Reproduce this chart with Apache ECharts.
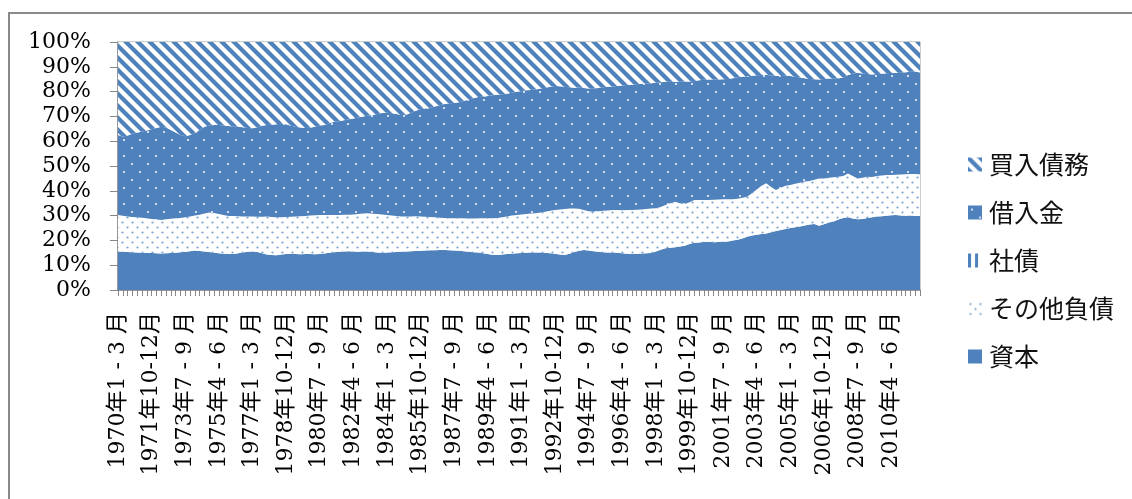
<!DOCTYPE html>
<html>
<head>
<meta charset="utf-8">
<script src="https://cdn.jsdelivr.net/npm/echarts@6/dist/echarts.min.js"></script>
<style>
  html, body { margin: 0; padding: 0; background: #fff; }
  #chart { width: 1132px; height: 499px; }
</style>
</head>
<body>
<div id="chart"></div>
<script>
// Quarterly balance-sheet composition (% of total), 1970 Q1 – 2011 Q4
const firstYear = 1970;
const lastYear = 2011;
const quarterLabels = ['1 - 3 月', '4 - 6 月', '7 - 9 月', '10-12月'];

const seriesNames = ['資本', 'その他負債', '社債', '借入金', '買入債務'];
const legendOrder = ['買入債務', '借入金', '社債', 'その他負債', '資本'];

// 資本 (one row per year, Q1..Q4)
const capital = [
  15.5, 15.4, 15.3, 15.2,  15.1, 15.0, 15.0, 14.9,  14.8, 14.7, 14.8, 14.9,  15.0, 15.2, 15.4, 15.6,
  15.9, 15.7, 15.5, 15.3,  15.0, 14.8, 14.6, 14.5,  14.5, 14.8, 15.1, 15.4,  15.5, 15.3, 14.8, 14.3,
  14.1, 14.0, 14.3, 14.5,  14.6, 14.5, 14.4, 14.5,  14.5, 14.4, 14.5, 14.7,  15.0, 15.2, 15.4, 15.5,
  15.6, 15.5, 15.4, 15.5,  15.5, 15.3, 15.1, 15.0,  15.1, 15.2, 15.3, 15.4,  15.5, 15.6, 15.7, 15.8,
  15.9, 16.0, 16.0, 16.1,  16.1, 16.0, 15.9, 15.8,  15.6, 15.4, 15.2, 15.1,  14.8, 14.5, 14.2, 14.1,
  14.3, 14.5, 14.6, 14.8,  14.9, 15.0, 15.1, 15.1,  15.1, 15.0, 14.8, 14.6,  14.3, 14.1, 14.6, 15.3,
  15.8, 16.1, 15.9, 15.6,  15.4, 15.2, 15.1, 15.1,  15.0, 14.8, 14.6, 14.5,  14.6, 14.7, 14.8, 14.9,
  15.5, 16.2, 16.8, 17.0,  17.2, 17.5, 17.8, 18.5,  19.1, 19.2, 19.4, 19.5,  19.3, 19.4, 19.5, 19.6,
  20.0, 20.3, 20.8, 21.5,  22.0, 22.3, 22.6, 22.8,  23.3, 23.8, 24.2, 24.6,  25.0, 25.3, 25.6, 26.0,
  26.4, 26.6, 25.9, 26.5,  27.2, 27.6, 28.4, 29.0,  29.3, 28.8, 28.5, 28.6,  29.0, 29.3, 29.6, 29.7,
  29.9, 30.1, 30.2, 30.0,  29.9, 30.0, 29.8, 29.8
];

// その他負債
const otherLiabilities = [
  14.7, 14.5, 14.3, 14.2,  14.2, 14.1, 13.9, 13.7,  13.6, 13.5, 13.7, 13.8,  13.9, 13.8, 13.9, 14.0,
  14.1, 14.6, 15.3, 15.9,  16.0, 15.8, 15.6, 15.3,  15.3, 14.9, 14.5, 14.2,  14.1, 14.2, 14.7, 15.3,
  15.3, 15.3, 15.0, 14.9,  14.9, 15.1, 15.3, 15.3,  15.5, 15.7, 15.7, 15.5,  15.2, 15.0, 14.8, 14.8,
  14.7, 14.9, 15.2, 15.3,  15.4, 15.4, 15.5, 15.4,  15.1, 14.8, 14.5, 14.2,  14.1, 14.0, 14.0, 13.8,
  13.6, 13.4, 13.3, 13.0,  12.9, 12.9, 13.0, 13.1,  13.3, 13.4, 13.6, 13.8,  14.1, 14.4, 14.7, 14.9,
  15.0, 15.1, 15.4, 15.4,  15.5, 15.6, 15.7, 15.8,  16.1, 16.6, 17.2, 17.7,  18.2, 18.6, 18.3, 17.6,
  17.0, 16.2, 15.9, 16.0,  16.4, 16.8, 17.0, 17.2,  17.3, 17.4, 17.7, 17.8,  17.8, 17.8, 17.9, 18.0,
  17.5, 17.3, 17.5, 18.0,  18.4, 17.5, 16.9, 16.9,  17.2, 17.1, 16.9, 16.8,  17.1, 17.1, 17.1, 17.0,
  16.6, 16.5, 16.4, 16.1,  17.0, 18.2, 19.4, 20.2,  18.2, 16.5, 17.0, 17.4,  17.3, 17.5, 17.6, 17.7,
  17.6, 17.9, 19.1, 18.5,  18.1, 17.9, 17.3, 17.0,  17.7, 17.2, 16.5, 16.7,  16.7, 16.3, 16.4, 16.5,
  16.5, 16.3, 16.3, 16.6,  16.8, 16.8, 17.0, 16.9
];

// 社債
const bonds = [
  0, 0, 0, 0,  0, 0, 0, 0,  0, 0, 0, 0,  0, 0, 0, 0,  0, 0, 0, 0,  0, 0, 0, 0,  0, 0, 0, 0,
  0, 0, 0, 0,  0, 0, 0, 0,  0, 0, 0, 0,  0, 0, 0, 0,  0, 0, 0, 0,  0, 0, 0, 0,  0, 0, 0, 0,
  0, 0, 0, 0,  0, 0, 0, 0,  0, 0, 0, 0,  0, 0, 0, 0,  0, 0, 0, 0,  0, 0, 0, 0,  0, 0, 0, 0,
  0, 0, 0, 0,  0, 0, 0, 0,  0, 0, 0, 0,  0, 0, 0, 0,  0, 0, 0, 0,  0, 0, 0, 0,  0, 0, 0, 0,
  0, 0, 0, 0,  0, 0, 0, 0,  0, 0, 0, 0,  0, 0, 0, 0,  0, 0, 0, 0,  0, 0, 0, 0,  0, 0, 0, 0,
  0, 0, 0, 0,  0, 0, 0, 0,  0, 0, 0, 0,  0, 0, 0, 0,  0, 0, 0, 0,  0, 0, 0, 0,  0, 0, 0, 0
];

// 借入金
const borrowings = [
  32.3, 31.9, 32.7, 33.6,  34.2, 34.7, 35.4, 36.2,  36.9, 37.6, 37.0, 35.8,  34.6, 33.5, 32.7, 32.9,
  33.3, 34.2, 35.0, 35.1,  35.5, 35.9, 36.1, 36.3,  36.1, 36.1, 36.0, 35.7,  35.6, 36.1, 36.7, 36.9,
  37.2, 37.5, 37.7, 37.4,  36.7, 36.2, 35.8, 35.5,  35.4, 35.7, 36.1, 36.3,  37.0, 37.6, 37.8, 38.1,
  38.5, 38.8, 39.0, 39.2,  39.4, 39.9, 40.4, 41.0,  41.3, 41.3, 41.2, 41.0,  41.1, 41.9, 42.6, 43.4,
  43.7, 44.1, 44.7, 45.4,  46.0, 46.4, 46.5, 46.8,  47.3, 48.0, 48.5, 48.9,  49.0, 49.3, 49.6, 49.7,
  49.6, 49.5, 49.5, 49.7,  49.8, 49.9, 49.8, 49.9,  50.0, 50.0, 50.0, 50.0,  49.7, 49.3, 48.9, 48.7,
  48.9, 49.2, 49.5, 49.7,  49.7, 49.8, 49.9, 49.8,  50.0, 50.3, 50.4, 50.5,  50.6, 50.7, 50.6, 50.5,
  50.6, 50.3, 49.7, 49.0,  48.4, 49.0, 49.4, 48.7,  48.0, 48.3, 48.5, 48.6,  48.5, 48.4, 48.4, 48.5,
  48.8, 49.0, 48.8, 48.6,  47.4, 46.1, 44.7, 43.8,  45.0, 46.1, 45.1, 44.4,  44.0, 43.2, 42.5, 41.7,
  41.1, 40.5, 39.9, 40.1,  40.0, 39.7, 39.7, 39.6,  39.7, 41.2, 42.6, 42.0,  41.4, 41.3, 41.1, 41.0,
  41.0, 41.1, 41.0, 41.0,  41.1, 41.2, 41.3, 41.0
];

// 買入債務
const payables = [
  37.5, 38.2, 37.7, 37.0,  36.5, 36.2, 35.7, 35.2,  34.7, 34.2, 34.5, 35.5,  36.5, 37.5, 38.0, 37.5,
  36.7, 35.5, 34.2, 33.7,  33.5, 33.5, 33.7, 33.9,  34.1, 34.2, 34.4, 34.7,  34.8, 34.4, 33.8, 33.5,
  33.4, 33.2, 33.0, 33.2,  33.8, 34.2, 34.5, 34.7,  34.6, 34.2, 33.7, 33.5,  32.8, 32.2, 32.0, 31.6,
  31.2, 30.8, 30.4, 30.0,  29.7, 29.4, 29.0, 28.6,  28.5, 28.7, 29.0, 29.4,  29.3, 28.5, 27.7, 27.0,
  26.8, 26.5, 26.0, 25.5,  25.0, 24.7, 24.6, 24.3,  23.8, 23.2, 22.7, 22.2,  22.1, 21.8, 21.5, 21.3,
  21.1, 20.9, 20.5, 20.1,  19.8, 19.5, 19.4, 19.2,  18.8, 18.4, 18.0, 17.7,  17.8, 18.0, 18.2, 18.4,
  18.3, 18.5, 18.7, 18.7,  18.5, 18.2, 18.0, 17.9,  17.7, 17.5, 17.3, 17.2,  17.0, 16.8, 16.7, 16.6,
  16.4, 16.2, 16.0, 16.0,  16.0, 16.0, 15.9, 15.9,  15.7, 15.4, 15.2, 15.1,  15.1, 15.1, 15.0, 14.9,
  14.6, 14.2, 14.0, 13.8,  13.6, 13.4, 13.3, 13.2,  13.5, 13.6, 13.7, 13.6,  13.7, 14.0, 14.3, 14.6,
  14.9, 15.0, 15.1, 14.9,  14.7, 14.8, 14.6, 14.4,  13.3, 12.8, 12.4, 12.7,  12.9, 13.1, 12.9, 12.8,
  12.6, 12.5, 12.5, 12.4,  12.2, 12.0, 11.9, 12.3
];

const categories = [];
for (let y = firstYear; y <= lastYear; y++) {
  for (const q of quarterLabels) categories.push(y + '年' + q);
}

// ---- fill patterns ----
const BLUE = '#4F81BD';
function makeTile(w, h, draw) {
  const c = document.createElement('canvas');
  c.width = w; c.height = h;
  draw(c.getContext('2d'), w, h);
  return c;
}
function dot(ctx, x, y, r) { ctx.beginPath(); ctx.arc(x, y, r, 0, Math.PI * 2); ctx.fill(); }

const stripeTile = makeTile(12, 12, (ctx, w, h) => {
  ctx.fillStyle = '#fff'; ctx.fillRect(0, 0, w, h);
  ctx.strokeStyle = BLUE; ctx.lineWidth = 4.2;
  for (let k = -2; k <= 2; k++) {
    ctx.beginPath();
    ctx.moveTo(k * w - w, -h);
    ctx.lineTo(k * w + 2 * w, 2 * h);
    ctx.stroke();
  }
});
const bigDotTile = makeTile(16, 16, (ctx, w, h) => {
  ctx.fillStyle = BLUE; ctx.fillRect(0, 0, w, h);
  ctx.fillStyle = 'rgba(255,255,255,0.9)';
  dot(ctx, 4, 4, 1.1); dot(ctx, 12, 12, 1.1);
});
const smallDotTile = makeTile(10, 10, (ctx, w, h) => {
  ctx.fillStyle = '#fff'; ctx.fillRect(0, 0, w, h);
  ctx.fillStyle = 'rgba(79,129,189,0.75)';
  dot(ctx, 2.5, 2.5, 1.1); dot(ctx, 7.5, 7.5, 1.1);
});
const verticalTile = makeTile(7, 7, (ctx, w, h) => {
  ctx.fillStyle = '#fff'; ctx.fillRect(0, 0, w, h);
  ctx.fillStyle = BLUE; ctx.fillRect(0, 0, 3, h);
});
const pat = (img) => ({ image: img, repeat: 'repeat' });

const fills = {
  '資本': BLUE,
  'その他負債': pat(smallDotTile),
  '社債': pat(verticalTile),
  '借入金': pat(bigDotTile),
  '買入債務': pat(stripeTile)
};
const values = {
  '資本': capital,
  'その他負債': otherLiabilities,
  '社債': bonds,
  '借入金': borrowings,
  '買入債務': payables
};

const serifFont = '"DejaVu Serif", "Noto Sans CJK JP", serif';

const chart = echarts.init(document.getElementById('chart'), null, { renderer: 'canvas' });
chart.setOption({
  animation: false,
  backgroundColor: '#fff',
  graphic: [{
    type: 'rect',
    shape: { x: 9, y: 13, width: 1300, height: 700 },
    style: { fill: 'none', stroke: '#8a8a8a', lineWidth: 2 },
    silent: true
  }],
  grid: {
    left: 118, top: 42, width: 802, height: 248,
    show: true, borderColor: '#9a9a9a', borderWidth: 1, backgroundColor: 'transparent'
  },
  legend: {
    orient: 'vertical',
    left: 963, top: 147,
    icon: 'rect',
    itemWidth: 14, itemHeight: 14, itemGap: 23,
    data: legendOrder,
    selectedMode: false,
    textStyle: {
      fontFamily: '"Noto Sans CJK JP", sans-serif',
      fontSize: 25, lineHeight: 25, color: '#111',
      padding: [0, 0, 0, 2]
    }
  },
  xAxis: {
    type: 'category',
    data: categories,
    boundaryGap: false,
    axisLine: { lineStyle: { color: '#868686', width: 1.5 } },
    axisTick: { show: true, interval: 0, length: 6, lineStyle: { color: '#868686', width: 1 } },
    axisLabel: {
      interval: 6, rotate: 90, margin: 22,
      fontFamily: serifFont, fontSize: 22, color: '#000'
    },
    splitLine: { show: false }
  },
  yAxis: {
    type: 'value', min: 0, max: 100, interval: 10,
    axisLine: { show: true, lineStyle: { color: '#868686', width: 1.5 } },
    axisTick: { show: true, length: 8, lineStyle: { color: '#868686', width: 1 } },
    axisLabel: {
      formatter: '{value}%', margin: 27,
      fontFamily: serifFont, fontSize: 22, color: '#000'
    },
    splitLine: { show: false }
  },
  series: seriesNames.map((name) => ({
    name,
    type: 'line',
    stack: 'total',
    data: values[name],
    symbol: 'none',
    showSymbol: false,
    lineStyle: { width: 0 },
    itemStyle: { color: fills[name] },
    areaStyle: { color: fills[name], opacity: 1 },
    emphasis: { disabled: true },
    silent: true
  }))
});
</script>
</body>
</html>
